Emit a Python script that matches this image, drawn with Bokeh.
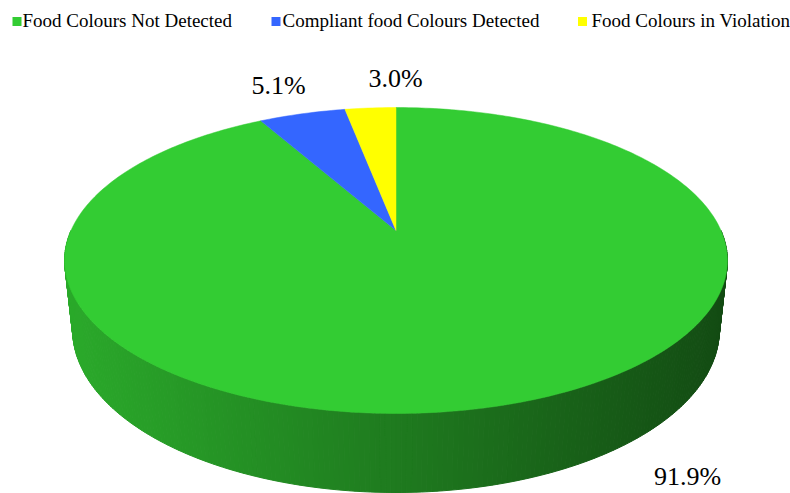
import numpy as np
from bokeh.plotting import figure
from bokeh.models import Range1d
from bokeh.core.properties import value
from bokeh.embed import file_html
from bokeh.resources import INLINE

# ---------------- data ----------------
categories = ["Food Colours Not Detected", "Compliant food Colours Detected", "Food Colours in Violation"]
values = [91.9, 5.1, 3.0]
labels = ["91.9%", "5.1%", "3.0%"]
colors = [(51, 204, 51), (52, 102, 255), (255, 255, 0)]

# ---------------- layout / style ----------------
W, H_PX = 790, 493
CX, CY = 395.5, 230.0          # screen position of pie centre
ELEV = np.arctan2(0.4526, 0.8917)
DIST = 4.548                   # camera distance (radius units)
FOC = 1478.0                   # focal length (px)
THICK = 0.241                  # pie thickness (radius units)
FONT = "Liberation Serif"

label_pos = [(687, 476), (278, 85), (395, 78)]       # label baselines
legend_sq = [(16.5, 21), (275.5, 21), (582, 21)]
legend_tx = [(22, 20), (282, 20), (591, 20)]


def project(X, Y, Z):
    c, s = np.cos(ELEV), np.sin(ELEV)
    up = Z * s + Y * c
    depth = DIST + Z * c - Y * s
    return CX + FOC * X / depth, CY - FOC * up / depth


def hexcol(rgb, f=1.0):
    r, g, b = [int(max(0, min(255, round(v * f)))) for v in rgb]
    return "#%02x%02x%02x" % (r, g, b)


fr = np.array(values) / np.sum(values)
edges = np.concatenate([[0], np.cumsum(fr)]) * 2 * np.pi   # clockwise from 12 o'clock

p = figure(width=W, height=H_PX, x_range=Range1d(0, W), y_range=Range1d(H_PX, 0),
           output_backend="svg", toolbar_location=None, min_border=0,
           x_axis_location=None, y_axis_location=None)
p.grid.visible = False
p.outline_line_color = None
p.background_fill_color = "white"
p.border_fill_color = "white"

# ---------------- side wall ----------------
def slice_of(phi):
    for i in range(len(values)):
        if edges[i] <= phi < edges[i + 1]:
            return i
    return len(values) - 1

xs_s, ys_s, cs_s, zs_s = [], [], [], []
phis = np.linspace(np.pi / 2, 3 * np.pi / 2, 241)
xl, _ = project(-1.0, 0.0, -0.2)
xr, _ = project(1.0, 0.0, -0.2)
for a, b in zip(phis[:-1], phis[1:]):
    X = np.array([np.sin(a), np.sin(b), np.sin(b), np.sin(a)])
    Z = np.array([np.cos(a), np.cos(b), np.cos(b), np.cos(a)])
    Y = np.array([0, 0, -THICK, -THICK])
    sx, sy = project(X, Y, Z)
    xm = sx.mean()
    t = (xm - xl) / (xr - xl)
    f = 0.84 - 0.48 * t
    col = hexcol(colors[slice_of((a + b) / 2)], f)
    xs_s.append(list(sx)); ys_s.append(list(sy)); cs_s.append(col); zs_s.append(Z.mean())
order = np.argsort(-np.array(zs_s))
p.patches(xs=[xs_s[i] for i in order], ys=[ys_s[i] for i in order],
          fill_color=[cs_s[i] for i in order], line_color=[cs_s[i] for i in order], line_width=1)

# ---------------- top face ----------------
xs_t, ys_t, cs_t = [], [], []
cx0, cy0 = project(0.0, 0.0, 0.0)
for i in range(len(values)):
    ang = np.linspace(edges[i], edges[i + 1], max(4, int(fr[i] * 400)))
    sx, sy = project(np.sin(ang), np.zeros_like(ang), np.cos(ang))
    xs_t.append([cx0] + list(sx)); ys_t.append([cy0] + list(sy)); cs_t.append(hexcol(colors[i]))
p.patches(xs=xs_t, ys=ys_t, fill_color=cs_t, line_color=cs_t, line_width=0.5)

# ---------------- data labels ----------------
p.text(x=[q[0] for q in label_pos], y=[q[1] for q in label_pos], text=labels,
       text_font=value(FONT), text_font_size="26px", text_align="center",
       text_baseline="alphabetic", text_color="black")

# ---------------- legend ----------------
p.scatter(x=[q[0] for q in legend_sq], y=[q[1] for q in legend_sq], marker="square", size=9,
          fill_color=[hexcol(c) for c in colors], line_color=None)
p.text(x=[q[0] for q in legend_tx], y=[q[1] for q in legend_tx], text=categories,
       text_font=value(FONT), text_font_size="19px", text_align="left",
       text_baseline="alphabetic", text_color="black")

open("out.html", "w").write(file_html(p, INLINE))
